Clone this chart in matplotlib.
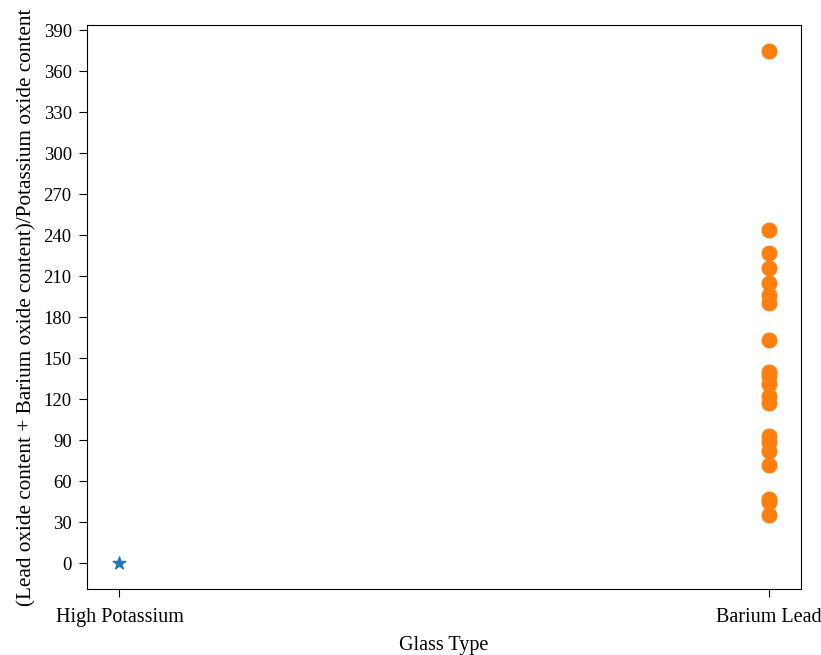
import matplotlib.pyplot as plt
import numpy as np

plt.rcParams['font.family'] = ['Liberation Serif', 'DejaVu Serif']
plt.rcParams['font.size'] = 14.5

glass_types = ["High Potassium", "Barium Lead"]
high_k_ratio = [0]
barium_lead_ratio = [375, 244, 227, 216, 205, 196, 190, 163, 140, 137, 131,
                     122, 117, 93, 89, 82, 72, 47, 45, 35]

fig = plt.figure(figsize=(8.21, 6.55), dpi=100)
ax = fig.add_axes([0.106, 0.101, 0.870, 0.861])

ax.scatter([glass_types[0]] * len(high_k_ratio), high_k_ratio, marker='*', s=90)
ax.scatter([glass_types[1]] * len(barium_lead_ratio), barium_lead_ratio, s=110)

ax.set_yticks(np.arange(0, 391, 30))
ax.tick_params(axis='y', labelsize=13.5, length=5.5, pad=5.5)
ax.tick_params(axis='x', labelsize=14.5, length=5.5, pad=8)
ax.set_xlabel("Glass Type", fontsize=14.5, labelpad=7)
ax.set_ylabel("(Lead oxide content + Barium oxide content)/Potassium oxide content",
              fontsize=15.3, labelpad=5)

fig.savefig("out.png")
